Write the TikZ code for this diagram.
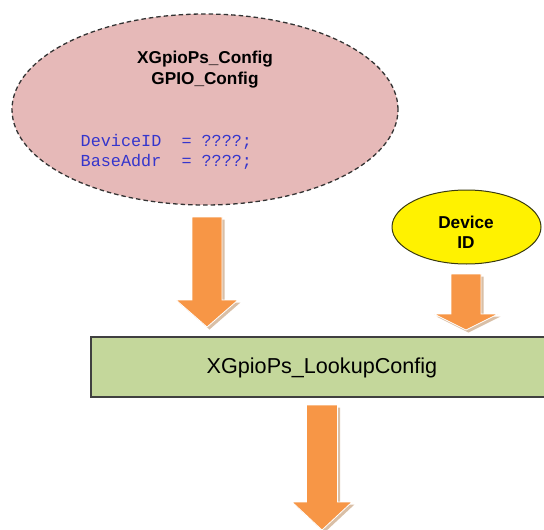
\documentclass[tikz,border=0pt]{standalone}
\usepackage{fontspec}
\setmainfont{Liberation Sans}
\newfontfamily\codefont{Liberation Mono}
\usetikzlibrary{shapes.geometric}
\definecolor{pinkfill}{HTML}{E6B9B8}
\definecolor{arroworange}{HTML}{F79646}
\definecolor{arrowshadow}{HTML}{D9BFA6}
\definecolor{greenfill}{HTML}{C4D79B}
\definecolor{codeblue}{HTML}{3535CC}
\definecolor{darkolive}{HTML}{3A3A10}
% cx, ytop, yhead, ytip, bodyhalf, headhalf
\newcommand\arrowpath[6]{(#1-#5,#2) -- (#1+#5,#2) -- (#1+#5,#3) -- (#1+#6,#3) -- (#1,#4) -- (#1-#6,#3) -- (#1-#5,#3) -- cycle}
\newcommand\blockarrow[6]{%
  \fill[arrowshadow,shift={(2.5,2.5)}] \arrowpath{#1}{#2}{#3}{#4}{#5}{#6};
  \filldraw[fill=arroworange,draw=white,line width=0.8pt] \arrowpath{#1}{#2}{#3}{#4}{#5}{#6};}
\tikzset{
  cfgell/.style={ellipse,draw=black!80,dash pattern=on 4.5pt off 3pt,line width=1.3pt,fill=pinkfill,minimum width=386pt,minimum height=191pt,inner sep=0pt},
  idell/.style={ellipse,draw=darkolive,line width=1pt,fill=yellow,minimum width=149pt,minimum height=74pt,inner sep=0pt},
  lookupbox/.style={rectangle,draw=black!75,line width=1.5pt,fill=greenfill,minimum width=462pt,minimum height=60pt,inner sep=0pt},
  boldlabel/.style={font=\bfseries\fontsize{17.2}{21}\selectfont,align=center,inner sep=0pt},
  codelabel/.style={font=\codefont\fontsize{16.8}{20}\selectfont,text=codeblue,align=left,inner sep=0pt,anchor=west},
  boxlabel/.style={font=\fontsize{21.6}{26}\selectfont,inner sep=0pt}
}
\begin{document}
\begin{tikzpicture}[x=1pt,y=-1pt]
\useasboundingbox (0,0) rectangle (544,530);
\clip (0,0) rectangle (544,530);
\node[cfgell] (cfg) at (205,109.5) {};
\node[boldlabel] (cfgtitle) at (205,70) {XGpioPs\_Config\\GPIO\_Config};
\node[codelabel] (code) at (80.5,152) {DeviceID\ \ = ????;\\BaseAddr\ \ = ????;};
\node[idell] (devid) at (466.5,227) {};
\node[boldlabel,font=\bfseries\fontsize{17.2}{20}\selectfont] (devidtext) at (466,232) {Device\\ID};
\node[lookupbox] (lookup) at (322,367) {};
\node[boxlabel] (lookuptext) at (322,368) {XGpioPs\_LookupConfig};
% block arrows
\blockarrow{207}{217}{300}{327}{15}{31}
\blockarrow{466}{274}{314}{330}{15}{32}
\blockarrow{322}{405}{502}{530}{15.5}{30}
\end{tikzpicture}
\end{document}
